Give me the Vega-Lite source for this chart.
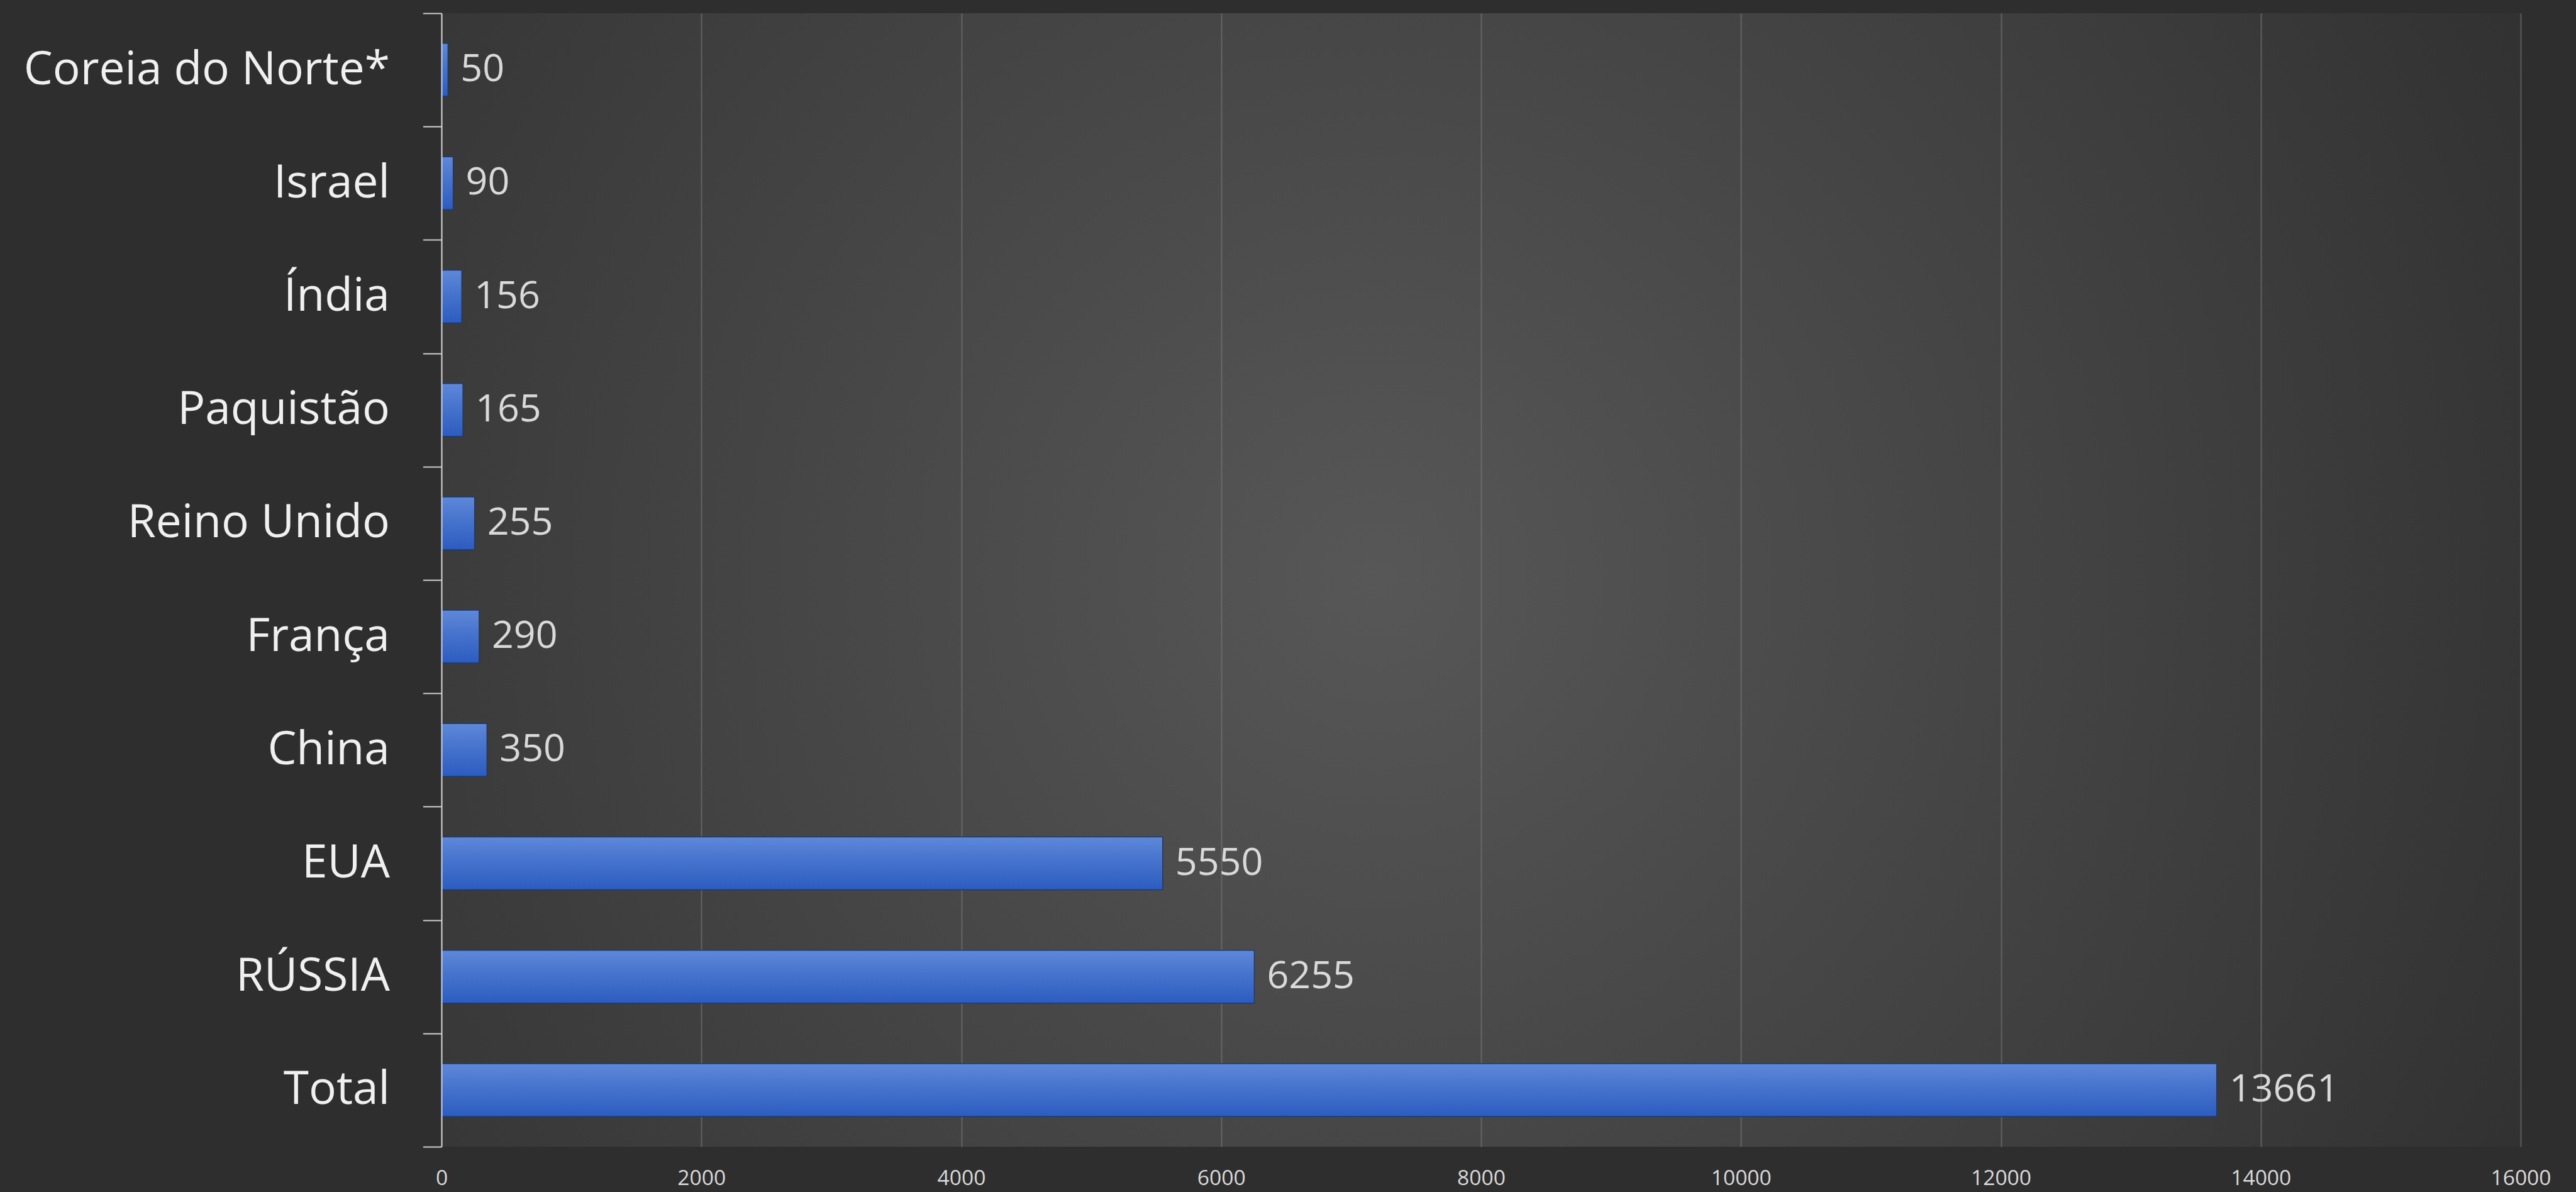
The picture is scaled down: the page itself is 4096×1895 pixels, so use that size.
{
  "$schema": "https://vega.github.io/schema/vega-lite/v6.json",
  "width": 3306,
  "height": 1802,
  "autosize": {"type": "none"},
  "padding": {"left": 702, "top": 21, "right": 88, "bottom": 72},
  "background": "#2e2e2e",
  "config": {
    "font": "Open Sans",
    "view": {
      "stroke": null,
      "fill": {
        "gradient": "radial",
        "x1": 0.45, "y1": 0.5, "r1": 0,
        "x2": 0.45, "y2": 0.5, "r2": 0.72,
        "stops": [
          {"offset": 0, "color": "#575757"},
          {"offset": 1, "color": "#2b2b2b"}
        ]
      }
    }
  },
  "data": {
    "values": [
      {"pais": "Coreia do Norte*", "valor": 50},
      {"pais": "Israel", "valor": 90},
      {"pais": "Índia", "valor": 156},
      {"pais": "Paquistão", "valor": 165},
      {"pais": "Reino Unido", "valor": 255},
      {"pais": "França", "valor": 290},
      {"pais": "China", "valor": 350},
      {"pais": "EUA", "valor": 5550},
      {"pais": "RÚSSIA", "valor": 6255},
      {"pais": "Total", "valor": 13661}
    ]
  },
  "encoding": {
    "y": {
      "field": "pais",
      "type": "nominal",
      "sort": null,
      "scale": {"paddingInner": 0, "paddingOuter": 0},
      "axis": {
        "title": null,
        "grid": false,
        "zindex": 1,
        "domainColor": "#d0d0d0",
        "domainWidth": 2,
        "tickColor": "#d0d0d0",
        "tickWidth": 2,
        "tickSize": 29.6,
        "tickBand": "extent",
        "labelFontSize": 73,
        "labelColor": "#f0f0f0",
        "labelPadding": 53,
        "labelLimit": 2000
      }
    },
    "x": {
      "field": "valor",
      "type": "quantitative",
      "scale": {"domain": [0, 16000], "nice": false},
      "axis": {
        "title": null,
        "values": [0, 2000, 4000, 6000, 8000, 10000, 12000, 14000, 16000],
        "format": "d",
        "domain": false,
        "ticks": false,
        "grid": true,
        "gridColor": "#7a7a7a",
        "gridOpacity": 0.6,
        "gridWidth": 2,
        "labelFontSize": 33.6,
        "labelColor": "#d9d9d9",
        "labelPadding": 33,
        "labelFlush": false,
        "labelOverlap": false
      }
    }
  },
  "layer": [
    {
      "mark": {
        "type": "bar",
        "size": 84,
        "fill": {
          "gradient": "linear",
          "x1": 0, "y1": 0, "x2": 0, "y2": 1,
          "stops": [
            {"offset": 0, "color": "#5e88d9"},
            {"offset": 0.45, "color": "#4673cc"},
            {"offset": 1, "color": "#2c5cc0"}
          ]
        },
        "stroke": "#1c3a70",
        "strokeWidth": 1.5
      }
    },
    {
      "mark": {
        "type": "text",
        "align": "left",
        "baseline": "middle",
        "dx": 20,
        "fontSize": 61,
        "color": "#d9d9d9"
      },
      "encoding": {
        "text": {"field": "valor", "type": "quantitative", "format": "d"}
      }
    }
  ]
}
